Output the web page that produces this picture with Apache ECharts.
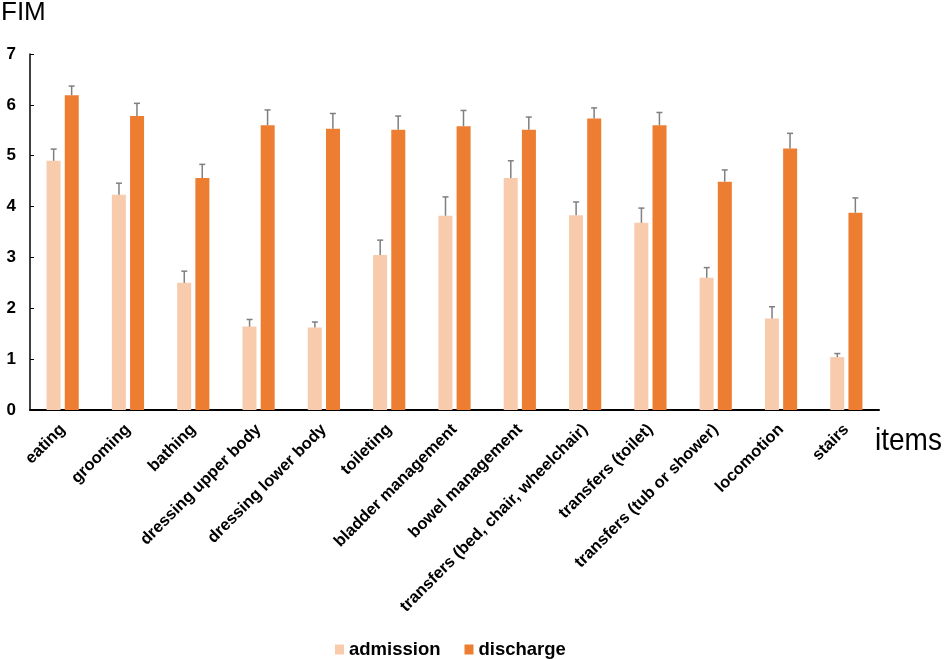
<!DOCTYPE html>
<html style="height: 100%">
   <head>
       <meta charset="utf-8">
   </head>
   <body style="height: 100%;margin: 0">
       <div id="container" style="height: 659px; width:945px;"></div>
       <script type="text/javascript" src="https://cdn.jsdelivr.net/npm/echarts@6/dist/echarts.min.js"></script>
       <script type="text/javascript">

var items = ['eating', 'grooming', 'bathing', 'dressing upper body', 'dressing lower body',
    'toileting', 'bladder management', 'bowel management', 'transfers (bed, chair, wheelchair)',
    'transfers (toilet)', 'transfers (tub or shower)', 'locomotion', 'stairs'];
var admission = [4.90, 4.23, 2.50, 1.64, 1.62, 3.05, 3.82, 4.56, 3.83, 3.68, 2.60, 1.80, 1.04];
var admissionErr = [0.23, 0.23, 0.23, 0.14, 0.11, 0.29, 0.37, 0.34, 0.26, 0.29, 0.20, 0.23, 0.07];
var discharge = [6.19, 5.78, 4.56, 5.60, 5.53, 5.51, 5.58, 5.51, 5.73, 5.60, 4.49, 5.14, 3.88];
var dischargeErr = [0.18, 0.25, 0.27, 0.30, 0.30, 0.27, 0.31, 0.25, 0.21, 0.25, 0.23, 0.30, 0.29];

var dom = document.getElementById("container");
var myChart = echarts.init(dom);
var font = 'Liberation Sans, Arial, sans-serif';

// error bar drawn above a bar, shifted sideways to sit on that bar
function errorBar(shift) {
    return function (params, api) {
        var i = api.value(0);
        var v = api.value(1);
        var top = api.coord([i, v + api.value(2)]);
        var base = api.coord([i, v]);
        var x = base[0] + shift;
        var style = { stroke: '#7f7f7f', lineWidth: 1.5 };
        return {
            type: 'group',
            children: [
                { type: 'line', shape: { x1: x, y1: base[1], x2: x, y2: top[1] }, style: style },
                { type: 'line', shape: { x1: x - 3, y1: top[1], x2: x + 3, y2: top[1] }, style: style }
            ]
        };
    };
}

function errData(vals, errs) {
    return vals.map(function (v, i) { return [i, v, errs[i]]; });
}

var option = {
    animation: false,
    grid: { left: 30, right: 66, top: 54, bottom: 249 },
    graphic: [
        { type: 'text', left: 1, top: 0, style: { text: 'FIM', font: '26px ' + font, fill: '#000' } },
        { type: 'text', x: 875, y: 425, scaleY: 1.15, style: { text: 'items', font: '28px ' + font, fill: '#000' } }
    ],
    legend: {
        data: ['admission', 'discharge'],
        top: 635,
        left: 330,
        itemWidth: 9,
        itemHeight: 10,
        itemGap: 24,
        icon: 'rect',
        textStyle: { fontFamily: font, fontWeight: 'bold', fontSize: 18.5, color: '#000' }
    },
    xAxis: {
        type: 'category',
        data: items,
        axisLine: { lineStyle: { color: '#000', width: 2 } },
        axisTick: { show: false },
        axisLabel: {
            interval: 0,
            rotate: 45,
            margin: 17,
            fontFamily: font,
            fontWeight: 'bold',
            fontSize: 16.5,
            color: '#000'
        }
    },
    yAxis: {
        type: 'value',
        min: 0,
        max: 7,
        interval: 1,
        splitLine: { show: false },
        axisLine: { show: true, lineStyle: { color: '#000', width: 1.5 } },
        axisTick: { show: true, inside: true, length: 4, lineStyle: { color: '#000' } },
        axisLabel: {
            margin: 14,
            fontFamily: font,
            fontWeight: 'bold',
            fontSize: 17,
            color: '#000'
        }
    },
    series: [
        {
            name: 'admission',
            type: 'bar',
            data: admission,
            barWidth: 14,
            barGap: '30%',
            itemStyle: { color: '#F8CBAD' }
        },
        {
            name: 'discharge',
            type: 'bar',
            data: discharge,
            barWidth: 14,
            itemStyle: { color: '#ED7D31' }
        },
        {
            name: 'admission error',
            type: 'custom',
            renderItem: errorBar(-9),
            data: errData(admission, admissionErr),
            z: 3
        },
        {
            name: 'discharge error',
            type: 'custom',
            renderItem: errorBar(9),
            data: errData(discharge, dischargeErr),
            z: 3
        }
    ]
};

if (option && typeof option === "object") {
    myChart.setOption(option, true);
}

       </script>
   </body>
</html>
